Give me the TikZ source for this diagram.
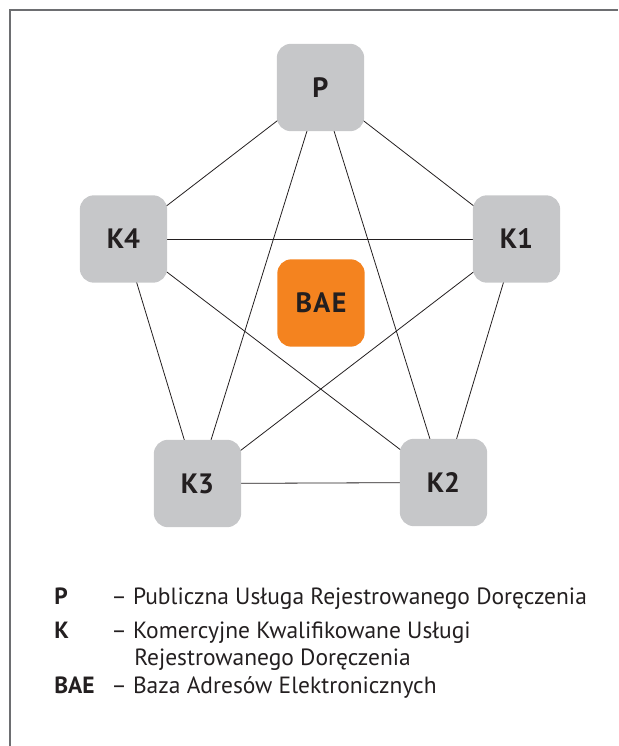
\documentclass[tikz,border=0pt]{standalone}
\usepackage{fontspec}
\setmainfont{PT Sans}
\usetikzlibrary{backgrounds}
\definecolor{boxgray}{HTML}{C6C7C9}
\definecolor{baeorange}{HTML}{F4831F}
\definecolor{inkdark}{HTML}{231F20}
\definecolor{framegray}{HTML}{6D6E71}

\begin{document}
\begin{tikzpicture}[x=0.75pt,y=-0.75pt,
    box/.style={rectangle,rounded corners=10.5pt,fill=boxgray,minimum width=65.5pt,minimum height=65.5pt,
        text=inkdark,font=\fontsize{21}{24}\selectfont\bfseries},
    centrebox/.style={box,fill=baeorange},
    link/.style={draw=inkdark,line width=0.6pt},
    legkey/.style={anchor=base west,inner sep=0pt,text=inkdark,font=\fontsize{17.6}{21}\selectfont\bfseries},
    legtext/.style={anchor=base west,inner sep=0pt,text=inkdark,font=\fontsize{17.6}{21}\selectfont}]
        \useasboundingbox (0,0) rectangle (618,746);
        \draw[framegray,line width=0.9pt] (10,746) -- (10,10) -- (618,10);
        % the five services round the address base
        \node[box] (P) at (320.5,87.5) {P};
        \node[box] (K4) at (123.5,239) {K4};
        \node[box] (K1) at (516.5,239) {K1};
        \node[box] (K3) at (197.5,483.5) {K3};
        \node[box] (K2) at (443.5,482.5) {K2};
        \node[centrebox] (BAE) at (321,303) {B\kern1pt A\kern1pt E};
        \begin{scope}[on background layer]
            \draw[link] (P.center) -- (K4.center);
            \draw[link] (P.center) -- (K1.center);
            \draw[link] (P.center) -- (K3.center);
            \draw[link] (P.center) -- (K2.center);
            \draw[link] (K4.center) -- (K1.center);
            \draw[link] (K4.center) -- (K3.center);
            \draw[link] (K4.center) -- (K2.center);
            \draw[link] (K1.center) -- (K3.center);
            \draw[link] (K1.center) -- (K2.center);
            \draw[link] (K3.center) -- (K2.center);
        \end{scope}
        % legend
        \node[legkey] (legP) at (54,604) {P};
        \node[legtext] (legPtext) at (111,604) {– Publiczna Usługa Rejestrowanego Doręczenia};
        \node[legkey] (legK) at (54,638) {K};
        \node[legtext] (legKtext) at (111,638) {– Komercyjne Kwalifikowane Usługi};
        \node[legtext] (legKmore) at (134,665) {Rejestrowanego Doręczenia};
        \node[legkey] (legBAE) at (54,693) {BAE};
        \node[legtext] (legBAEtext) at (111,693) {– Baza Adresów Elektronicznych};
    \end{tikzpicture}
\end{document}
